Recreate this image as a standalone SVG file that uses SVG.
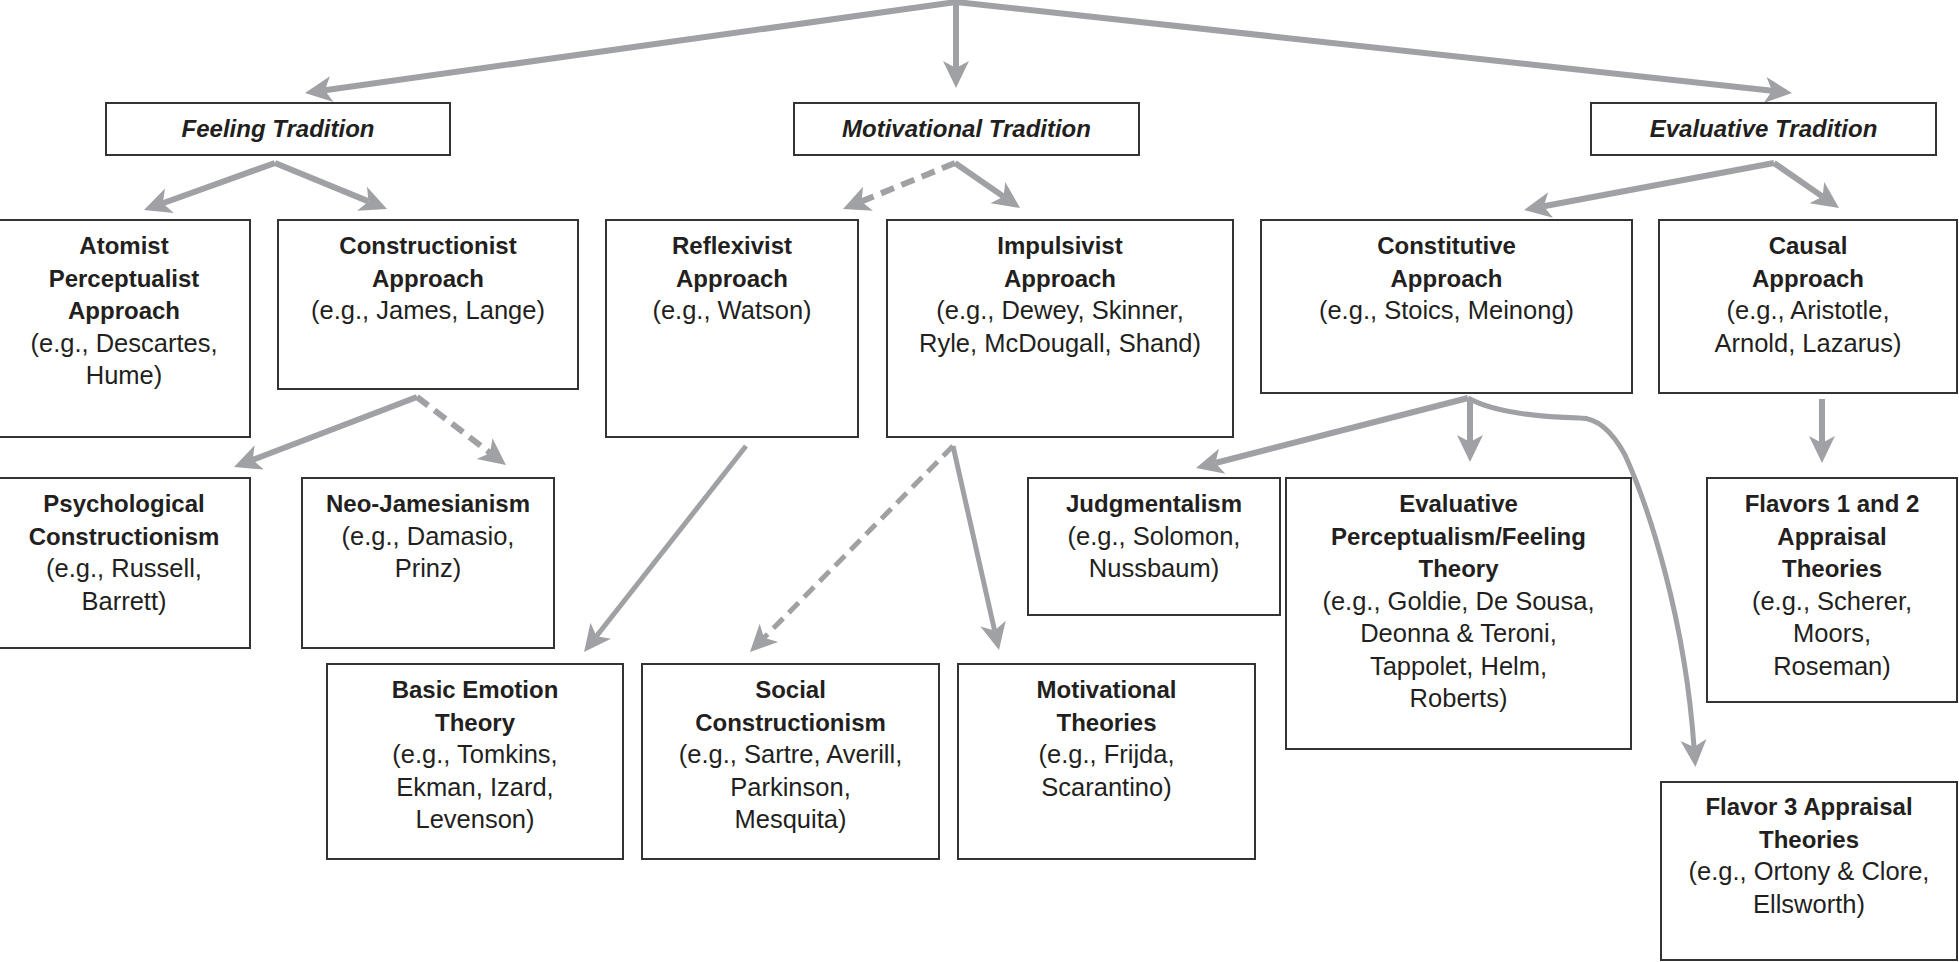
<svg xmlns="http://www.w3.org/2000/svg" width="1959" height="962" viewBox="0 0 1959 962">
<style>
.box{fill:#fff;stroke:#333;stroke-width:2}
.b{font-family:"Liberation Sans",Arial,sans-serif;font-weight:bold;font-size:24px;fill:#231f20;text-anchor:middle}
.r{font-family:"Liberation Sans",Arial,sans-serif;font-size:25.5px;fill:#231f20;text-anchor:middle}
.t{font-family:"Liberation Sans",Arial,sans-serif;font-weight:bold;font-style:italic;font-size:24px;fill:#231f20;text-anchor:middle}
.c{fill:none;stroke:#a0a1a5;stroke-width:6;marker-end:url(#ah)}
.thin{stroke-width:5}
.d{stroke-dasharray:14 8}
</style>
<defs>
<marker id="ah" markerUnits="userSpaceOnUse" viewBox="-8 -14 30 28" refX="0" refY="0" markerWidth="30" markerHeight="28" orient="auto">
<path d="M20,0 L-7,-13 L0,0 L-7,13 Z" fill="#a0a1a5"/>
</marker>
</defs>
<rect width="1959" height="962" fill="#fff"/>
<g id="connectors">
<line class="c" x1="956" y1="2" x2="324.8" y2="90.2"/>
<line class="c" x1="956" y1="0" x2="956" y2="68"/>
<line class="c" x1="956" y1="2" x2="1772.1" y2="90.8"/>
<line class="c" x1="275" y1="163" x2="162.8" y2="203.2"/>
<line class="c" x1="275" y1="163" x2="368.5" y2="201.4"/>
<line class="c d" x1="955" y1="163" x2="861.5" y2="201.4"/>
<line class="c" x1="955" y1="163" x2="1003.6" y2="196.6"/>
<line class="c" x1="1774" y1="163" x2="1543.7" y2="206.3"/>
<line class="c" x1="1774" y1="163" x2="1822.6" y2="196.6"/>
<line class="c" x1="417" y1="397" x2="252.7" y2="459.9"/>
<line class="c d" x1="417" y1="397" x2="490.1" y2="452.9"/>
<line class="c thin" x1="746" y1="446" x2="596.4" y2="636.3"/>
<line class="c thin d" x1="953" y1="446" x2="764" y2="637.8"/>
<line class="c thin" x1="953" y1="446" x2="994.6" y2="630.5"/>
<line class="c" x1="1468" y1="398" x2="1215.4" y2="463"/>
<line class="c" x1="1470" y1="398" x2="1470" y2="442"/>
<path class="c thin" d="M1468,398 Q1500,416 1580,418 Q1605,418 1625,455 C1650,510 1685,620 1694,747"/>
<line class="c" x1="1822" y1="399" x2="1822" y2="443"/>
</g>
<g id="feeling-tradition"><rect class="box" x="106" y="103" width="344" height="52"/><text class="t" x="278" y="137">Feeling Tradition</text></g>
<g id="motivational-tradition"><rect class="box" x="794" y="103" width="345" height="52"/><text class="t" x="966.5" y="137">Motivational Tradition</text></g>
<g id="evaluative-tradition"><rect class="box" x="1591" y="103" width="345" height="52"/><text class="t" x="1763.5" y="137">Evaluative Tradition</text></g>
<g id="atomist"><rect class="box" x="-2" y="220" width="252" height="217"/>
<text class="b" x="124" y="254">Atomist</text><text class="b" x="124" y="286.5">Perceptualist</text><text class="b" x="124" y="319">Approach</text>
<text class="r" x="124" y="351.5">(e.g., Descartes,</text><text class="r" x="124" y="384">Hume)</text></g>
<g id="constructionist"><rect class="box" x="278" y="220" width="300" height="169"/>
<text class="b" x="428" y="254">Constructionist</text><text class="b" x="428" y="286.5">Approach</text>
<text class="r" x="428" y="319">(e.g., James, Lange)</text></g>
<g id="reflexivist"><rect class="box" x="606" y="220" width="252" height="217"/>
<text class="b" x="732" y="254">Reflexivist</text><text class="b" x="732" y="286.5">Approach</text>
<text class="r" x="732" y="319">(e.g., Watson)</text></g>
<g id="impulsivist"><rect class="box" x="887" y="220" width="346" height="217"/>
<text class="b" x="1060" y="254">Impulsivist</text><text class="b" x="1060" y="286.5">Approach</text>
<text class="r" x="1060" y="319">(e.g., Dewey, Skinner,</text><text class="r" x="1060" y="351.5">Ryle, McDougall, Shand)</text></g>
<g id="constitutive"><rect class="box" x="1261" y="220" width="371" height="173"/>
<text class="b" x="1446.5" y="254">Constitutive</text><text class="b" x="1446.5" y="286.5">Approach</text>
<text class="r" x="1446.5" y="319">(e.g., Stoics, Meinong)</text></g>
<g id="causal"><rect class="box" x="1659" y="220" width="298" height="173"/>
<text class="b" x="1808" y="254">Causal</text><text class="b" x="1808" y="286.5">Approach</text>
<text class="r" x="1808" y="319">(e.g., Aristotle,</text><text class="r" x="1808" y="351.5">Arnold, Lazarus)</text></g>
<g id="psychological-constructionism"><rect class="box" x="-2" y="478" width="252" height="170"/>
<text class="b" x="124" y="512">Psychological</text><text class="b" x="124" y="544.5">Constructionism</text>
<text class="r" x="124" y="577">(e.g., Russell,</text><text class="r" x="124" y="609.5">Barrett)</text></g>
<g id="neo-jamesianism"><rect class="box" x="302" y="478" width="252" height="170"/>
<text class="b" x="428" y="512">Neo-Jamesianism</text>
<text class="r" x="428" y="544.5">(e.g., Damasio,</text><text class="r" x="428" y="577">Prinz)</text></g>
<g id="judgmentalism"><rect class="box" x="1028" y="478" width="252" height="137"/>
<text class="b" x="1154" y="512">Judgmentalism</text>
<text class="r" x="1154" y="544.5">(e.g., Solomon,</text><text class="r" x="1154" y="577">Nussbaum)</text></g>
<g id="evaluative-perceptualism"><rect class="box" x="1286" y="478" width="345" height="271"/>
<text class="b" x="1458.5" y="512">Evaluative</text><text class="b" x="1458.5" y="544.5">Perceptualism/Feeling</text><text class="b" x="1458.5" y="577">Theory</text>
<text class="r" x="1458.5" y="609.5">(e.g., Goldie, De Sousa,</text><text class="r" x="1458.5" y="642">Deonna &amp; Teroni,</text><text class="r" x="1458.5" y="674.5">Tappolet, Helm,</text><text class="r" x="1458.5" y="707">Roberts)</text></g>
<g id="flavors-1-2"><rect class="box" x="1707" y="478" width="250" height="224"/>
<text class="b" x="1832" y="512">Flavors 1 and 2</text><text class="b" x="1832" y="544.5">Appraisal</text><text class="b" x="1832" y="577">Theories</text>
<text class="r" x="1832" y="609.5">(e.g., Scherer,</text><text class="r" x="1832" y="642">Moors,</text><text class="r" x="1832" y="674.5">Roseman)</text></g>
<g id="basic-emotion"><rect class="box" x="327" y="664" width="296" height="195"/>
<text class="b" x="475" y="698">Basic Emotion</text><text class="b" x="475" y="730.5">Theory</text>
<text class="r" x="475" y="763">(e.g., Tomkins,</text><text class="r" x="475" y="795.5">Ekman, Izard,</text><text class="r" x="475" y="828">Levenson)</text></g>
<g id="social-constructionism"><rect class="box" x="642" y="664" width="297" height="195"/>
<text class="b" x="790.5" y="698">Social</text><text class="b" x="790.5" y="730.5">Constructionism</text>
<text class="r" x="790.5" y="763">(e.g., Sartre, Averill,</text><text class="r" x="790.5" y="795.5">Parkinson,</text><text class="r" x="790.5" y="828">Mesquita)</text></g>
<g id="motivational-theories"><rect class="box" x="958" y="664" width="297" height="195"/>
<text class="b" x="1106.5" y="698">Motivational</text><text class="b" x="1106.5" y="730.5">Theories</text>
<text class="r" x="1106.5" y="763">(e.g., Frijda,</text><text class="r" x="1106.5" y="795.5">Scarantino)</text></g>
<g id="flavor-3"><rect class="box" x="1661" y="782" width="296" height="178"/>
<text class="b" x="1809" y="815">Flavor 3 Appraisal</text><text class="b" x="1809" y="847.5">Theories</text>
<text class="r" x="1809" y="880">(e.g., Ortony &amp; Clore,</text><text class="r" x="1809" y="912.5">Ellsworth)</text></g>
</svg>
